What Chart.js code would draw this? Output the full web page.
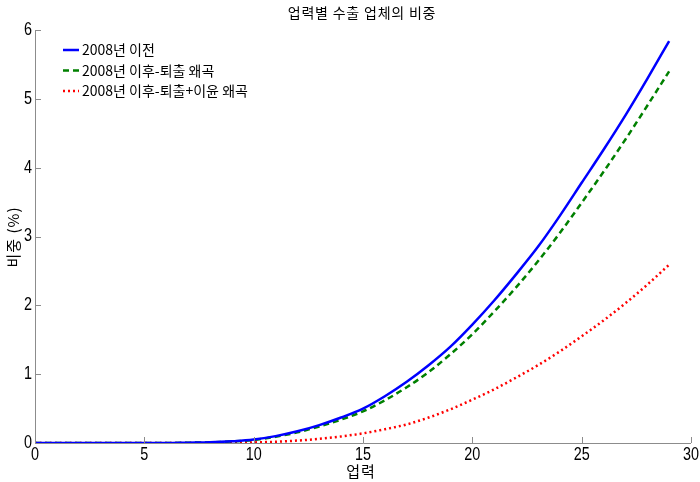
<!DOCTYPE html>
<html><head><meta charset="utf-8">
<script src="https://cdn.jsdelivr.net/npm/chart.js@4/dist/chart.umd.min.js"></script>
<style>html,body{margin:0;padding:0;background:#fff}#wrap{width:700px;height:482px}</style>
</head><body><div id="wrap"><canvas id="c" width="700" height="482"></canvas></div>
<script>
const ages = [0,1,2,3,4,5,6,7,8,9,10,11,12,13,14,15,16,17,18,19,20,21,22,23,24,25,26,27,28,29];
const pre2008 = [0,0,0,0,0,0,0,0.005,0.01,0.025,0.05,0.10,0.17,0.26,0.37,0.50,0.68,0.89,1.13,1.40,1.72,2.07,2.45,2.85,3.30,3.78,4.26,4.76,5.29,5.84];
const postExit = [0,0,0,0,0,0,0,0.004,0.01,0.022,0.045,0.09,0.155,0.24,0.34,0.46,0.62,0.81,1.03,1.29,1.58,1.91,2.26,2.64,3.05,3.49,3.94,4.41,4.90,5.40];
const postExitProfit = [0,0,0,0,0,0,0,0,0,0.003,0.008,0.018,0.035,0.06,0.095,0.14,0.20,0.27,0.37,0.49,0.63,0.78,0.95,1.13,1.33,1.55,1.78,2.03,2.30,2.59];
const seriesNames = ['2008년 이전','2008년 이후-퇴출 왜곡','2008년 이후-퇴출+이윤 왜곡'];
const xTicks = [0,5,10,15,20,25,30];
const yTicks = [0,1,2,3,4,5,6];
const titleText = '업력별 수출 업체의 비중';
const xTitle = '업력';
const yTitle = '비중 (%)';

const NFONT = '"Liberation Sans", Arial, sans-serif';
const KFONT = '"Noto Sans CJK KR", "Liberation Sans", sans-serif';

function narrowText(ctx, text, x, y, align, sx) {
  ctx.save();
  ctx.translate(x, y);
  ctx.scale(sx, 1);
  ctx.textAlign = align;
  ctx.fillText(text, 0, 0);
  ctx.restore();
}

const overlay = {
  id: 'overlay',
  afterDraw(chart) {
    const ctx = chart.ctx, a = chart.chartArea;
    const xs = chart.scales.x, ys = chart.scales.y;
    ctx.save();
    // axis lines
    ctx.strokeStyle = '#8c8c8c'; ctx.lineWidth = 1;
    ctx.beginPath();
    ctx.moveTo(a.left + 0.5, a.top); ctx.lineTo(a.left + 0.5, a.bottom + 0.5);
    ctx.lineTo(a.right, a.bottom + 0.5);
    ctx.stroke();
    // inward ticks
    ctx.beginPath();
    xTicks.forEach(v => { const px = Math.round(xs.getPixelForValue(v)) + 0.5; ctx.moveTo(px, a.bottom); ctx.lineTo(px, a.bottom - 6); });
    yTicks.forEach(v => { const py = Math.round(ys.getPixelForValue(v)) + 0.5; ctx.moveTo(a.left, py); ctx.lineTo(a.left + 6, py); });
    ctx.stroke();
    // tick labels (condensed)
    ctx.fillStyle = '#000';
    ctx.font = '18px ' + NFONT;
    ctx.textBaseline = 'middle';
    xTicks.forEach(v => narrowText(ctx, String(v), xs.getPixelForValue(v), 455, 'center', 0.8));
    yTicks.forEach(v => narrowText(ctx, String(v), 32, ys.getPixelForValue(v), 'right', 0.8));
    // titles
    ctx.textAlign = 'center';
    ctx.font = '14px ' + KFONT;
    ctx.letterSpacing = '0.8px';
    ctx.fillText(titleText, 362, 13);
    ctx.letterSpacing = '1px';
    ctx.font = '15px ' + KFONT;
    ctx.fillText(xTitle, 361, 471);
    ctx.save();
    ctx.translate(13, 237);
    ctx.rotate(-Math.PI / 2);
    ctx.font = '15px ' + KFONT;
    ctx.fillText(yTitle, 0, 0);
    ctx.restore();
    ctx.letterSpacing = '0px';
    // legend
    const ds = chart.data.datasets;
    ctx.font = '14px ' + KFONT;
    ctx.textAlign = 'left';
    ds.forEach((d, i) => {
      const y = 50 + i * 20.5;
      ctx.strokeStyle = d.borderColor; ctx.lineWidth = d.borderWidth;
      ctx.setLineDash(d.borderDash || []);
      ctx.beginPath(); ctx.moveTo(63, y); ctx.lineTo(79, y); ctx.stroke();
      ctx.setLineDash([]);
      ctx.fillStyle = '#000';
      ctx.fillText(d.label, 82, y);
    });
    ctx.restore();
  }
};

new Chart(document.getElementById('c'), {
  type: 'line',
  data: {
    labels: ages,
    datasets: [
      { label: seriesNames[0], data: ages.map((x, i) => ({x, y: pre2008[i]})), borderColor: '#0000ff', borderWidth: 2.5, pointRadius: 0, cubicInterpolationMode: 'monotone' },
      { label: seriesNames[1], data: ages.map((x, i) => ({x, y: postExit[i]})), borderColor: '#008000', borderWidth: 2.5, borderDash: [6, 4], pointRadius: 0, cubicInterpolationMode: 'monotone' },
      { label: seriesNames[2], data: ages.map((x, i) => ({x, y: postExitProfit[i]})), borderColor: '#ff0000', borderWidth: 2.5, borderDash: [2, 3], pointRadius: 0, cubicInterpolationMode: 'monotone' }
    ]
  },
  options: {
    responsive: false, animation: false,
    layout: { padding: { top: 30, right: 9, left: 0, bottom: 0 } },
    plugins: { legend: { display: false }, title: { display: false }, tooltip: { enabled: false } },
    scales: {
      x: {
        type: 'linear', min: 0, max: 30,
        afterBuildTicks: s => { s.ticks = xTicks.map(v => ({ value: v })); },
        afterFit: s => { s.height = 39; },
        grid: { display: false, drawTicks: false },
        border: { display: false },
        ticks: { display: false }
      },
      y: {
        type: 'linear', min: 0, max: 6,
        afterBuildTicks: s => { s.ticks = yTicks.map(v => ({ value: v })); },
        afterFit: s => { s.width = 35; },
        grid: { display: false, drawTicks: false },
        border: { display: false },
        ticks: { display: false }
      }
    }
  },
  plugins: [overlay]
});
</script></body></html>
